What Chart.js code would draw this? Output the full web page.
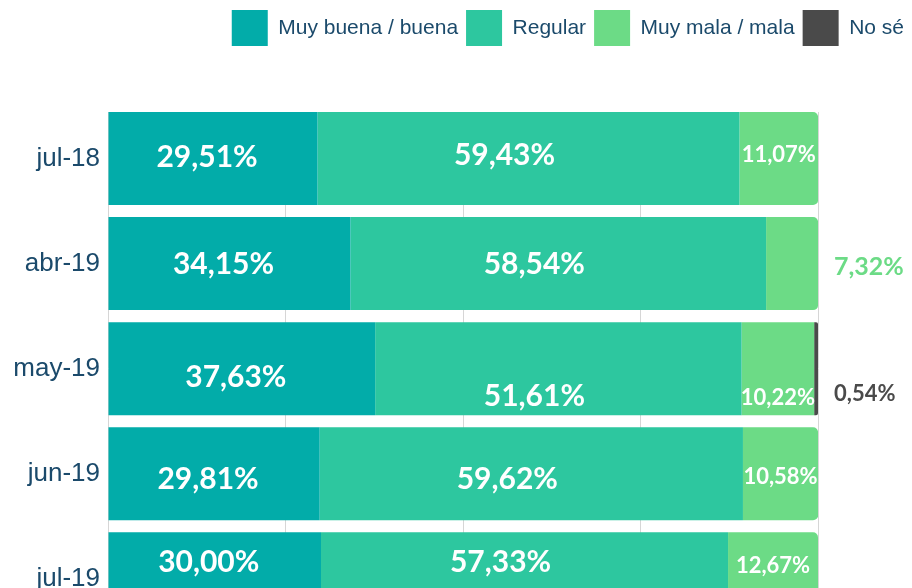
<!DOCTYPE html>
<html>
<head>
<meta charset="utf-8">
<script src="https://cdn.jsdelivr.net/npm/chart.js@4.4.1/dist/chart.umd.min.js"></script>
<style>
  html, body { margin: 0; padding: 0; background: #fff; overflow: hidden; }
  #wrap { position: relative; width: 912px; height: 655px; }
</style>
</head>
<body>
<div id="wrap"><canvas id="opinionChart"></canvas></div>
<script>
// encuesta: percepción por mes
const categories = ["jul-18", "abr-19", "may-19", "jun-19", "jul-19"];
const seriesNames = ["Muy buena / buena", "Regular", "Muy mala / mala", "No sé"];
const muyBuena = [29.51, 34.15, 37.63, 29.81, 30.0];
const regular = [59.43, 58.54, 51.61, 59.62, 57.33];
const muyMala = [11.07, 7.32, 10.22, 10.58, 12.67];
const noSe = [0, 0, 0.54, 0, 0];
const xTicks = [0, 25, 50, 75, 100];

const colors = ["#02aca9", "#2dc79f", "#6cdb86", "#4a4a4a"];
const navy = "#1b4a6b";

const fmt = (v) => v.toFixed(2).replace(".", ",") + "%";

// value labels, inside the segment or to the right of the bar when it doesn't fit
const barLabels = {
  id: "barLabels",
  afterDatasetsDraw(chart, args, opts) {
    const ctx = chart.ctx;
    const right = chart.chartArea.right;
    ctx.save();
    chart.data.datasets.forEach((ds, di) => {
      const meta = chart.getDatasetMeta(di);
      meta.data.forEach((bar, i) => {
        const v = ds.data[i];
        if (!v) return;
        const w = Math.abs(bar.x - bar.base);
        const dy = opts.dy[i][di];
        let size, x, align, color;
        if (w >= opts.minInside) {
          size = opts.size[di];
          x = (bar.x + bar.base) / 2 + opts.dx[di];
          align = "center";
          color = "#ffffff";
        } else {
          size = opts.outsideSize[di];
          x = right + 16;
          align = "left";
          color = ds.backgroundColor;
        }
        ctx.font = "bold " + size + "px Lato";
        ctx.textAlign = align;
        ctx.textBaseline = "alphabetic";
        ctx.fillStyle = color;
        ctx.fillText(fmt(v), x, bar.y + size * 0.36 + dy);
      });
    });
    ctx.restore();
  },
};

// grid lines start at the first bar, not at the top of the plot
const trimGrid = {
  id: "trimGrid",
  beforeDatasetsDraw(chart) {
    const bar = chart.getDatasetMeta(0).data[0];
    if (!bar) return;
    const a = chart.chartArea;
    const ctx = chart.ctx;
    ctx.save();
    ctx.fillStyle = "#ffffff";
    ctx.fillRect(a.left - 2, a.top - 2, a.right - a.left + 4, bar.y - bar.height / 2 - a.top + 2);
    ctx.restore();
  },
};

// extra room under the legend
const legendGap = {
  id: "legendGap",
  beforeInit(chart) {
    const fit = chart.legend.fit;
    chart.legend.fit = function () {
      fit.bind(chart.legend)();
      this.height += 50;
    };
  },
};

const seriesData = [muyBuena, regular, muyMala, noSe];

new Chart(document.getElementById("opinionChart"), {
  type: "bar",
  data: {
    labels: categories,
    datasets: seriesData.map((d, k) => ({
      label: seriesNames[k],
      data: d,
      backgroundColor: colors[k],
      borderWidth: 0,
      borderRadius: 5,
      categoryPercentage: 1,
      barPercentage: 0.885,
    })),
  },
  options: {
    indexAxis: "y",
    responsive: true,
    maintainAspectRatio: false,
    animation: false,
    layout: { padding: { top: 2, right: 0, bottom: 0, left: 0 } },
    plugins: {
      tooltip: { enabled: false },
      legend: {
        position: "top",
        align: "end",
        labels: {
          boxWidth: 36,
          boxHeight: 36,
          padding: 8,
          color: navy,
          font: { family: "Liberation Sans", size: 21 },
        },
      },
      barLabels: {
        minInside: 60,
        size: [30, 30, 22, 22],
        outsideSize: [24, 24, 25, 22],
        dx: [-6, -24, 0, 0],
        dy: [
          [-2, -4, -4, 0],
          [0, 0, 2, 0],
          [7, 26, 28, 24],
          [4, 4, 2, 0],
          [-18, -18, -14, 0],
        ],
      },
    },
    scales: {
      x: {
        stacked: true,
        min: 0,
        max: 100,
        afterBuildTicks: (s) => { s.ticks = xTicks.map((v) => ({ value: v })); },
        ticks: { display: false },
        grid: { color: "#d6d6d6", lineWidth: 1, drawTicks: false },
        border: { display: false },
      },
      y: {
        stacked: true,
        afterFit: (s) => { s.width = 108; },
        ticks: {
          color: navy,
          padding: 8,
          font: { family: "Liberation Sans", size: 26 },
        },
        grid: { display: false, drawTicks: false },
        border: { display: false },
      },
      side: {
        type: "linear",
        axis: "y",
        position: "right",
        afterFit: (s) => { s.width = 94; },
        ticks: { display: false },
        grid: { display: false, drawTicks: false },
        border: { display: false },
      },
    },
  },
  plugins: [barLabels, trimGrid, legendGap],
});
</script>
</body>
</html>
